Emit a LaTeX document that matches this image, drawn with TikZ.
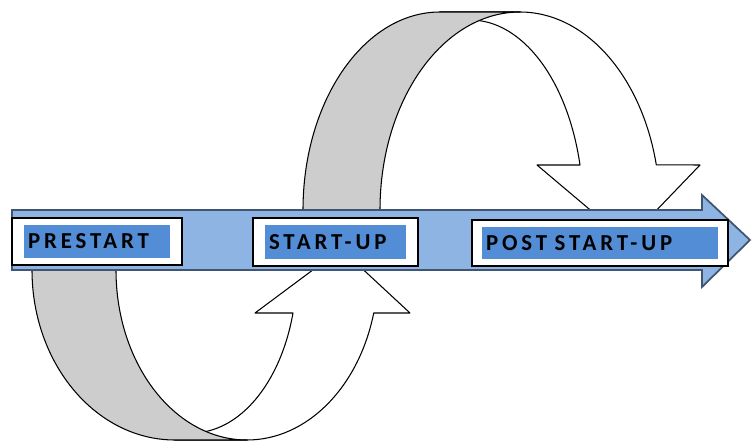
\documentclass[tikz,border=0pt]{standalone}
\usepackage{fontspec}
\usetikzlibrary{positioning}
\newfontfamily\stagefont[LetterSpace=17]{Carlito}
\definecolor{Band}{RGB}{141, 180, 226}
\definecolor{BandLine}{RGB}{65, 85, 115}
\definecolor{Label}{RGB}{83, 141, 213}
\definecolor{Ribbon}{RGB}{205, 205, 205}

\begin{document}
\begin{tikzpicture}[x=0.02cm, y=0.02cm,
    ribbon/.style={draw=black, line width=0.6pt, line join=round},
    stagebox/.style={draw=black, fill=white, line width=0.9pt, inner sep=0pt},
    stagelabel/.style={fill=Label, inner sep=0.08cm, align=left,
        font={\stagefont\bfseries\fontsize{13}{15}\selectfont}}]
    \useasboundingbox (0,0) rectangle (752,441);

    % Upper loop: front face, then the inside of the ribbon
    \draw[ribbon, fill=white] (440,429) -- (520,429)
        arc[start angle=90, end angle=13.2, x radius=140, y radius=198]
        -- (700,276) -- (627,200) -- (537,276) -- (580,276)
        arc[start angle=13.7, end angle=90, x radius=113, y radius=190] -- cycle;
    \draw[ribbon, fill=Ribbon] (303,231)
        arc[start angle=180, end angle=90, x radius=137, y radius=198] -- (520,429)
        arc[start angle=90, end angle=180, x radius=140, y radius=198] -- cycle;

    % Lower loop
    \draw[ribbon, fill=white] (175,1) -- (247,1)
        arc[start angle=270, end angle=345.35, x radius=131, y radius=170]
        -- (410,128) -- (341,192) -- (255,128) -- (293,128)
        arc[start angle=344.7, end angle=270, x radius=105, y radius=163] -- cycle;
    \draw[ribbon, fill=Ribbon] (32,171)
        arc[start angle=180, end angle=270, x radius=143, y radius=170] -- (247,1)
        arc[start angle=270, end angle=180, x radius=131, y radius=170] -- cycle;

    % Main timeline arrow
    \draw[draw=BandLine, fill=Band, line width=1pt] (12,171) -- (702,171) -- (702,154)
        -- (750,201) -- (702,246) -- (702,231) -- (12,231) -- cycle;

    % Stages
    \node[stagebox, minimum width=3.4cm, minimum height=0.94cm] (pre) at (97,199.5) {};
    \node[stagelabel, text width=2.76cm, minimum height=0.66cm] (pre-lbl) at (pre.center) {PRESTART};

    \node[stagebox, minimum width=3.3cm, minimum height=0.96cm] (start) at (335.5,199) {};
    \node[stagelabel, text width=2.66cm, minimum height=0.68cm] (start-lbl) at (start.center) {START-UP};

    \node[stagebox, minimum width=5.12cm, minimum height=0.92cm] (post) at (600,198) {};
    \node[stagelabel, text width=4.56cm, minimum height=0.64cm] (post-lbl) at (post.center) {POST START-UP};
\end{tikzpicture}
\end{document}
